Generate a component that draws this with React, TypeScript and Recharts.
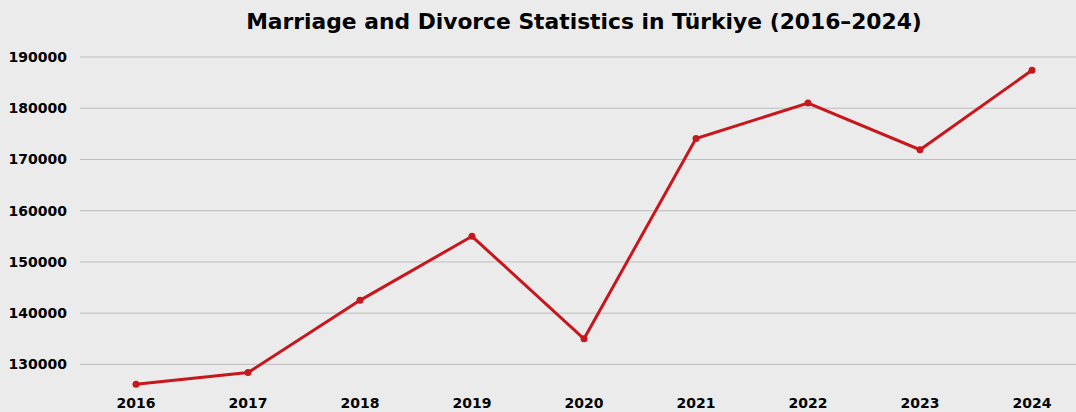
import { LineChart, Line, XAxis, YAxis, CartesianGrid } from 'recharts';

const years = ['2016', '2017', '2018', '2019', '2020', '2021', '2022', '2023', '2024'];
const divorces = [126100, 128400, 142500, 155000, 135000, 174100, 181000, 171900, 187400];
const yTicks = [130000, 140000, 150000, 160000, 170000, 180000, 190000];

const RED = '#c8161d';
const FONT = '"DejaVu Sans", sans-serif';

export default function App() {
    const data = years.map((y, i) => ({ year: y, value: divorces[i] }));

    return (
        <div
            style={{
                position: 'fixed',
                top: 0,
                left: 0,
                width: 1076,
                height: 412,
                overflow: 'hidden',
                background: '#ebebeb',
                fontFamily: FONT,
            }}
        >
            <div
                style={{
                    position: 'absolute',
                    left: 80,
                    width: 1008,
                    top: 8,
                    textAlign: 'center',
                    fontSize: 21.8,
                    fontWeight: 700,
                    color: '#000',
                    lineHeight: '28px',
                }}
            >
                Marriage and Divorce Statistics in Türkiye (2016–2024)
            </div>
            <LineChart width={1088} height={412} data={data} margin={{ top: 57, right: 0, left: 0, bottom: 0 }}>
                <CartesianGrid
                    vertical={false}
                    horizontalValues={yTicks}
                    stroke="#bdbdbd"
                    strokeWidth={1}
                />
                <XAxis
                    dataKey="year"
                    axisLine={false}
                    tickLine={false}
                    tickSize={0}
                    tickMargin={8}
                    height={22}
                    padding={{ left: 56, right: 56 }}
                    interval={0}
                    tick={{ fill: '#000', fontSize: 14, fontWeight: 700, fontFamily: FONT }}
                />
                <YAxis
                    domain={[125000, 190000]}
                    ticks={yTicks}
                    axisLine={false}
                    tickLine={false}
                    tickSize={0}
                    tickMargin={13}
                    width={80}
                    interval={0}
                    tick={{ fill: '#000', fontSize: 14, fontWeight: 700, fontFamily: FONT }}
                />
                <Line
                    type="linear"
                    dataKey="value"
                    stroke={RED}
                    strokeWidth={3}
                    dot={{ r: 3.5, fill: RED, stroke: RED, strokeWidth: 0 }}
                    isAnimationActive={false}
                />
            </LineChart>
        </div>
    );
}
